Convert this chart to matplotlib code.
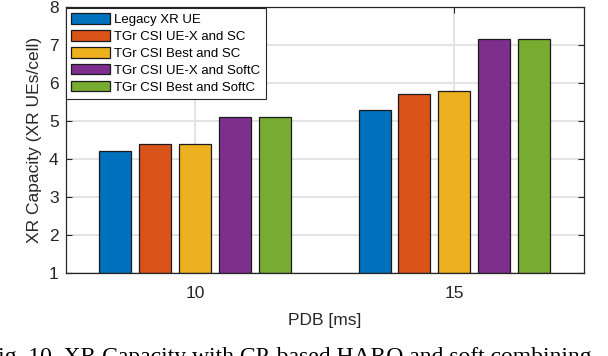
import matplotlib
matplotlib.use("Agg")
import matplotlib.pyplot as plt
import numpy as np

categories = ["10", "15"]
series_names = ["Legacy XR UE", "TGr CSI UE-X and SC", "TGr CSI Best and SC",
                "TGr CSI UE-X and SoftC", "TGr CSI Best and SoftC"]
legacy = [4.2, 5.3]
ue_x_sc = [4.4, 5.7]
best_sc = [4.4, 5.8]
ue_x_softc = [5.1, 7.15]
best_softc = [5.1, 7.15]
colors = ["#0072BD", "#D95319", "#EDB120", "#7E2F8E", "#77AC30"]

plt.rcParams['font.family'] = ['Liberation Sans', 'DejaVu Sans']

fig = plt.figure(figsize=(6.08, 3.56), dpi=100)
ax = fig.add_axes([65.5/608, 1-273/356, (584-65.5)/608, (273-7)/356])

x = np.arange(1, len(categories)+1)
data = [legacy, ue_x_sc, best_sc, ue_x_softc, best_softc]
width = 0.1235
step = 0.154
for i, (vals, name, c) in enumerate(zip(data, series_names, colors)):
    ax.bar(x + (i-2)*step, np.array(vals) - 1, bottom=1, width=width, color=c,
           edgecolor="#1a1a1a", linewidth=0.9, label=name, zorder=3)

ax.set_xlim(0.5, 2.5)
ax.set_ylim(1, 8)
ax.set_xticks(x)
ax.set_xticklabels(categories)
ax.set_yticks(range(1, 9))
ax.grid(True, color="#e3e3e3", linewidth=1.4, zorder=0)
ax.set_axisbelow(True)
for s in ax.spines.values():
    s.set_color("#262626")
    s.set_linewidth(0.9)
    s.set_zorder(4)
ax.tick_params(direction="in", length=4, width=0.8, colors="#262626",
               labelsize=12.5, top=True, right=True)
ax.tick_params(axis="x", pad=9)
ax.tick_params(axis="y", pad=5)
ax.set_xlabel("PDB [ms]", fontsize=12.5, color="#262626", labelpad=9)
ax.set_ylabel("XR Capacity (XR UEs/cell)", fontsize=12.5, color="#262626", labelpad=5)

leg = ax.legend(loc="upper left", bbox_to_anchor=(0, 1), borderaxespad=0.05,
                fontsize=9.5, handlelength=2.95, handleheight=0.88,
                labelspacing=0.3, handletextpad=0.3, borderpad=0.4,
                fancybox=False, framealpha=1, edgecolor="#262626")
leg.get_frame().set_linewidth(0.8)
leg.set_zorder(5)

fig.text(-15/608, (356-363)/356, "Fig. 10. XR Capacity with CP-based HARQ and soft combining",
         family=["Liberation Serif", "DejaVu Serif"], fontsize=17, va="baseline", ha="left",
         color="black")

fig.savefig("out.png", dpi=100)
